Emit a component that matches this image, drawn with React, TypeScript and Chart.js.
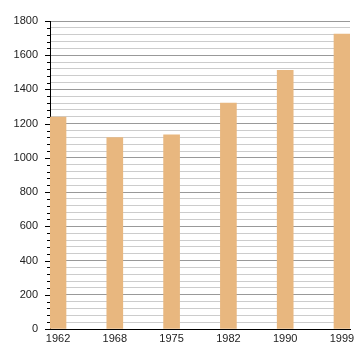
import React, { useEffect, useRef } from "react";
import { Chart, registerables } from "chart.js";

Chart.register(...registerables);

const years: string[] = ["1962", "1968", "1975", "1982", "1990", "1999"];
const population: number[] = [1238, 1119, 1135, 1320, 1511, 1724];
const yMax = 1800;
const yStep = 40;
const yLabelStep = 200;

const yTickMarks = {
  id: "yTickMarks",
  afterDraw(chart: any) {
    const y = chart.scales.y;
    const ctx = chart.ctx;
    ctx.save();
    ctx.strokeStyle = "#000";
    ctx.lineWidth = 1;
    y.ticks.forEach((t: any) => {
      const py = Math.round(y.getPixelForValue(t.value)) + 0.5;
      const len = t.value % yLabelStep === 0 ? 5 : 3;
      ctx.beginPath();
      ctx.moveTo(y.right - len, py);
      ctx.lineTo(y.right, py);
      ctx.stroke();
    });
    ctx.restore();
  },
};

export default function App() {
  const ref = useRef<HTMLCanvasElement>(null);
  useEffect(() => {
    document.body.style.margin = "0";
    const chart = new Chart(ref.current!, {
      type: "bar",
      data: {
        datasets: [
          {
            data: population.map((v, i) => ({ x: i, y: v })),
            backgroundColor: "#E8B77F",
            borderWidth: 0,
            barThickness: 16,
          },
        ],
      },
      options: {
        responsive: false,
        animation: false,
        layout: { padding: { top: 21, right: 10, left: 0, bottom: 0 } },
        plugins: { legend: { display: false }, tooltip: { enabled: false } },
        scales: {
          x: {
            type: "linear",
            offset: false,
            min: -0.141,
            max: 5.141,
            afterBuildTicks: (s: any) => {
              s.ticks = years.map((_, i) => ({ value: i }));
            },
            afterFit: (s: any) => {
              s.height = 31;
              s.paddingLeft = 0;
              s.paddingRight = 0;
            },
            grid: { display: false, drawTicks: false },
            border: { display: true, color: "#000", width: 1 },
            ticks: {
              autoSkip: false,
              maxRotation: 0,
              padding: 3,
              color: "#222",
              font: { family: "'Liberation Sans', Arial, sans-serif", size: 11 },
              callback: (v: any) => years[v as number] ?? "",
            },
          },
          y: {
            min: 0,
            max: yMax,
            afterFit: (s: any) => {
              s.width = 50;
              s.paddingTop = 0;
              s.paddingBottom = 0;
            },
            grid: {
              color: (c: any) => (c.tick && c.tick.value % yLabelStep === 0 ? "#999" : "#ccc"),
              drawTicks: false,
            },
            border: { display: true, color: "#000", width: 1 },
            ticks: {
              stepSize: yStep,
              autoSkip: false,
              padding: 12,
              color: "#222",
              font: { family: "'Liberation Sans', Arial, sans-serif", size: 11 },
              callback: (v: any) => ((v as number) % yLabelStep === 0 ? String(v) : ""),
            },
          },
        },
      },
      plugins: [yTickMarks],
    });
    return () => chart.destroy();
  }, []);
  return (
    <div style={{ width: 360, height: 360 }}>
      <canvas ref={ref} width={360} height={360} />
    </div>
  );
}
